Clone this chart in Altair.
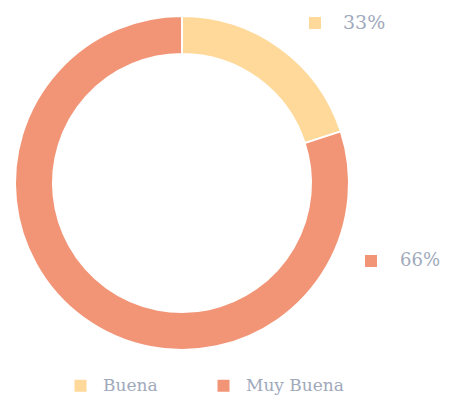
import altair as alt
import pandas as pd

categories = ["Buena", "Muy Buena"]
values = [20, 80]
pct_labels = ["33%", "66%"]
colors = ["#fed999", "#f29577"]
text_color = "#a0a9bb"
font = "DejaVu Serif"

df = pd.DataFrame({"cat": categories, "value": values, "label": pct_labels, "order": [0, 1]})

scale = alt.Scale(domain=categories, range=colors)

arc = alt.Chart(df).mark_arc(outerRadius=167, innerRadius=129, stroke="white", strokeWidth=2).encode(
    theta=alt.Theta("value:Q", stack=True),
    color=alt.Color("cat:N", scale=scale, legend=alt.Legend(
        title=None, orient="none", direction="horizontal", legendX=64, legendY=369,
        symbolType="square", symbolSize=144, symbolStrokeWidth=0, symbolOpacity=1,
        labelFont=font, labelFontSize=17, labelColor=text_color, labelOffset=14,
        columnPadding=57, padding=0)),
    order=alt.Order("order:Q"),
    x=alt.value(174), y=alt.value(175),
)

def label_layer(i, sx, sy, tx, fs):
    base = alt.Chart(df).transform_filter(alt.datum.cat == categories[i])
    sq = base.mark_point(shape="square", filled=True, size=144, opacity=1).encode(
        x=alt.value(sx), y=alt.value(sy),
        color=alt.Color("cat:N", scale=scale, legend=None))
    tx_ = base.mark_text(align="left", baseline="middle", font=font, fontSize=fs, color=text_color).encode(
        x=alt.value(tx), y=alt.value(sy), text="label:N")
    return sq + tx_

chart = alt.layer(
    arc,
    label_layer(0, 307, 15, 335, 19),
    label_layer(1, 363, 253, 392, 18),
).properties(
    width=433, height=390, autosize=alt.AutoSizeParams(type="none"), padding=0
).configure_view(stroke=None)

chart.save("out.html", embed_options={"renderer": "svg", "actions": False})
